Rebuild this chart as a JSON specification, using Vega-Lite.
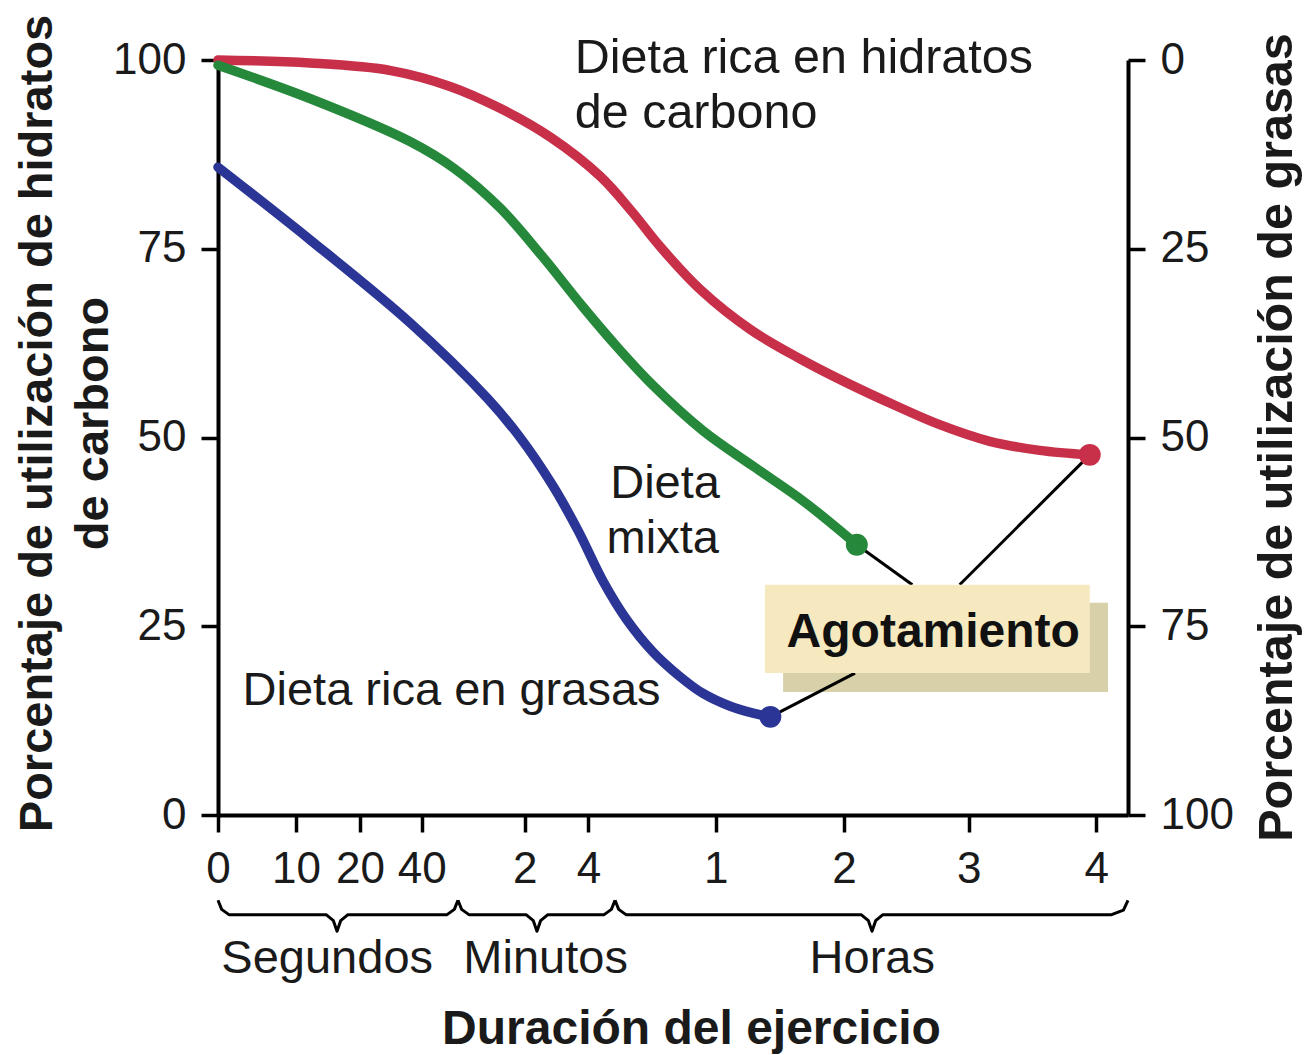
{
  "$schema": "https://vega.github.io/schema/vega-lite/v6.json",
  "width": 910,
  "height": 755,
  "autosize": {"type": "none"},
  "padding": {"left": 218, "top": 60, "right": 179, "bottom": 240},
  "background": "white",
  "config": {
    "view": {"stroke": null},
    "font": "Liberation Sans",
    "axis": {
      "domainColor": "black", "domainWidth": 4, "tickColor": "black", "tickWidth": 3.5, "tickSize": 17,
      "labelFontSize": 44, "labelColor": "#1a1a1a", "labelFont": "Liberation Sans",
      "titleFont": "Liberation Sans", "titleFontSize": 48, "titleFontWeight": "bold", "titleColor": "#1a1a1a",
      "grid": false, "labelFlush": false, "labelOverlap": false, "labelBound": false, "labelPadding": 15
    }
  },
  "datasets": {
    "curves": [
      {"dieta": "Dieta rica en hidratos de carbono", "x": 0, "carb": 100},
      {"dieta": "Dieta rica en hidratos de carbono", "x": 1.01, "carb": 99.6},
      {"dieta": "Dieta rica en hidratos de carbono", "x": 1.9, "carb": 98.6},
      {"dieta": "Dieta rica en hidratos de carbono", "x": 2.55, "carb": 96.5},
      {"dieta": "Dieta rica en hidratos de carbono", "x": 3.1, "carb": 93.6},
      {"dieta": "Dieta rica en hidratos de carbono", "x": 3.65, "carb": 89.8},
      {"dieta": "Dieta rica en hidratos de carbono", "x": 4.2, "carb": 84.6},
      {"dieta": "Dieta rica en hidratos de carbono", "x": 4.55, "carb": 79.9},
      {"dieta": "Dieta rica en hidratos de carbono", "x": 4.85, "carb": 75.4},
      {"dieta": "Dieta rica en hidratos de carbono", "x": 5.3, "carb": 69.6},
      {"dieta": "Dieta rica en hidratos de carbono", "x": 5.85, "carb": 64.3},
      {"dieta": "Dieta rica en hidratos de carbono", "x": 6.4, "carb": 60.4},
      {"dieta": "Dieta rica en hidratos de carbono", "x": 6.9, "carb": 57.3},
      {"dieta": "Dieta rica en hidratos de carbono", "x": 7.45, "carb": 54.2},
      {"dieta": "Dieta rica en hidratos de carbono", "x": 7.93, "carb": 51.7},
      {"dieta": "Dieta rica en hidratos de carbono", "x": 8.48, "carb": 49.5},
      {"dieta": "Dieta rica en hidratos de carbono", "x": 9.03, "carb": 48.3},
      {"dieta": "Dieta rica en hidratos de carbono", "x": 9.58, "carb": 47.7},
      {"dieta": "Dieta mixta", "x": 0, "carb": 99.3},
      {"dieta": "Dieta mixta", "x": 1.01, "carb": 94.9},
      {"dieta": "Dieta mixta", "x": 2.11, "carb": 89.2},
      {"dieta": "Dieta mixta", "x": 2.6, "carb": 85.6},
      {"dieta": "Dieta mixta", "x": 3.1, "carb": 80.4},
      {"dieta": "Dieta mixta", "x": 3.57, "carb": 73.9},
      {"dieta": "Dieta mixta", "x": 4.01, "carb": 67.3},
      {"dieta": "Dieta mixta", "x": 4.4, "carb": 61.8},
      {"dieta": "Dieta mixta", "x": 4.78, "carb": 56.9},
      {"dieta": "Dieta mixta", "x": 5.33, "carb": 50.9},
      {"dieta": "Dieta mixta", "x": 5.88, "carb": 46.2},
      {"dieta": "Dieta mixta", "x": 6.43, "carb": 41.6},
      {"dieta": "Dieta mixta", "x": 7.02, "carb": 35.8},
      {"dieta": "Dieta rica en grasas", "x": 0, "carb": 85.8},
      {"dieta": "Dieta rica en grasas", "x": 1.01, "carb": 76.2},
      {"dieta": "Dieta rica en grasas", "x": 2.11, "carb": 65.2},
      {"dieta": "Dieta rica en grasas", "x": 2.96, "carb": 55.2},
      {"dieta": "Dieta rica en grasas", "x": 3.32, "carb": 50.0},
      {"dieta": "Dieta rica en grasas", "x": 3.68, "carb": 43.6},
      {"dieta": "Dieta rica en grasas", "x": 3.96, "carb": 37.6},
      {"dieta": "Dieta rica en grasas", "x": 4.23, "carb": 31.0},
      {"dieta": "Dieta rica en grasas", "x": 4.49, "carb": 25.9},
      {"dieta": "Dieta rica en grasas", "x": 4.78, "carb": 21.6},
      {"dieta": "Dieta rica en grasas", "x": 5.08, "carb": 18.3},
      {"dieta": "Dieta rica en grasas", "x": 5.33, "carb": 16.1},
      {"dieta": "Dieta rica en grasas", "x": 5.63, "carb": 14.4},
      {"dieta": "Dieta rica en grasas", "x": 5.88, "carb": 13.5},
      {"dieta": "Dieta rica en grasas", "x": 6.07, "carb": 13.0}
    ],
    "ends": [
      {"dieta": "Dieta rica en hidratos de carbono", "x": 9.58, "grasas": 52.3},
      {"dieta": "Dieta mixta", "x": 7.02, "grasas": 64.2},
      {"dieta": "Dieta rica en grasas", "x": 6.07, "grasas": 87.0}
    ],
    "connectors": [
      {"x": 7.02, "y": 35.8, "x2": 7.63, "y2": 30.5},
      {"x": 9.58, "y": 47.7, "x2": 8.15, "y2": 30.5},
      {"x": 6.07, "y": 13.0, "x2": 7.0, "y2": 18.8}
    ],
    "box": [{"x": 6.01, "x2": 9.58, "y": 30.5, "y2": 18.8}],
    "shadow": [{"x": 6.21, "x2": 9.78, "y": 28.1, "y2": 16.3}],
    "agot": [{"t": "Agotamiento", "x": 7.86, "y": 22.3}],
    "toplabel": [
      {"t": "Dieta rica en hidratos", "x": 3.92, "y": 98.3},
      {"t": "de carbono", "x": 3.92, "y": 91.0}
    ],
    "labels": [
      {"t": "Dieta", "x": 4.31, "y": 42.0},
      {"t": "mixta", "x": 4.27, "y": 34.7},
      {"t": "Dieta rica en grasas", "x": 0.27, "y": 14.6}
    ],
    "groups": [
      {"t": "Segundos", "x": 1.2, "y": -20.9},
      {"t": "Minutos", "x": 3.6, "y": -20.9},
      {"t": "Horas", "x": 7.19, "y": -20.9}
    ],
    "braces": [
      {"b": "s", "x": 0, "y": -11.3},
      {"b": "s", "x": 0.04, "y": -12.5},
      {"b": "s", "x": 0.12, "y": -13.2},
      {"b": "s", "x": 1.188, "y": -13.2},
      {"b": "s", "x": 1.268, "y": -14.0},
      {"b": "s", "x": 1.308, "y": -15.4},
      {"b": "s", "x": 1.348, "y": -14.0},
      {"b": "s", "x": 1.428, "y": -13.2},
      {"b": "s", "x": 2.517, "y": -13.2},
      {"b": "s", "x": 2.597, "y": -12.5},
      {"b": "s", "x": 2.637, "y": -11.3},
      {"b": "m", "x": 2.637, "y": -11.3},
      {"b": "m", "x": 2.677, "y": -12.5},
      {"b": "m", "x": 2.757, "y": -13.2},
      {"b": "m", "x": 3.385, "y": -13.2},
      {"b": "m", "x": 3.465, "y": -14.0},
      {"b": "m", "x": 3.505, "y": -15.4},
      {"b": "m", "x": 3.545, "y": -14.0},
      {"b": "m", "x": 3.625, "y": -13.2},
      {"b": "m", "x": 4.243, "y": -13.2},
      {"b": "m", "x": 4.323, "y": -12.5},
      {"b": "m", "x": 4.363, "y": -11.3},
      {"b": "h", "x": 4.363, "y": -11.3},
      {"b": "h", "x": 4.403, "y": -12.5},
      {"b": "h", "x": 4.483, "y": -13.2},
      {"b": "h", "x": 7.067, "y": -13.2},
      {"b": "h", "x": 7.147, "y": -14.0},
      {"b": "h", "x": 7.187, "y": -15.4},
      {"b": "h", "x": 7.227, "y": -14.0},
      {"b": "h", "x": 7.307, "y": -13.2},
      {"b": "h", "x": 9.82, "y": -13.2},
      {"b": "h", "x": 9.95, "y": -12.6},
      {"b": "h", "x": 10.0, "y": -11.3}
    ]
  },
  "layer": [
    {
      "layer": [
        {
          "data": {"name": "curves"},
          "mark": {"type": "line", "strokeWidth": 9.5, "interpolate": "catmull-rom", "strokeCap": "round"},
          "encoding": {
            "x": {
              "field": "x", "type": "quantitative",
              "scale": {"domain": [0, 10], "nice": false, "zero": false},
              "axis": {
                "values": [0, 0.857, 1.56, 2.24, 3.37, 4.07, 5.47, 6.88, 8.25, 9.65],
                "labelExpr": "datum.value < 0.5 ? '0' : datum.value < 1.2 ? '10' : datum.value < 1.9 ? '20' : datum.value < 3 ? '40' : datum.value < 3.7 ? '2' : datum.value < 5 ? '4' : datum.value < 6 ? '1' : datum.value < 7.5 ? '2' : datum.value < 9 ? '3' : '4'",
                "domainWidth": 4, "tickWidth": 3.5,
                "title": "Duración del ejercicio",
                "titleX": 473, "titleY": 228, "titleAlign": "center", "titleBaseline": "alphabetic"
              }
            },
            "y": {
              "field": "carb", "type": "quantitative",
              "scale": {"domain": [0, 100], "nice": false},
              "axis": {
                "values": [0, 25, 50, 75, 100],
                "domainWidth": 4, "tickWidth": 3.5,
                "title": ["Porcentaje de utilización de hidratos", "de carbono"],
                "titleFontSize": 47,
                "titleAngle": 270, "titleX": -204, "titleY": 363, "titleAlign": "center",
                "titleBaseline": "top", "titleLineHeight": 56
              }
            },
            "color": {
              "field": "dieta", "type": "nominal",
              "scale": {"domain": ["Dieta rica en hidratos de carbono", "Dieta mixta", "Dieta rica en grasas"], "range": ["#c8304a", "#25883a", "#2b3596"]},
              "legend": null
            }
          }
        },
        {
          "data": {"name": "shadow"},
          "mark": {"type": "rect", "color": "#d8d0a8"},
          "encoding": {
            "x": {"field": "x", "type": "quantitative"}, "x2": {"field": "x2"},
            "y": {"field": "y", "type": "quantitative"}, "y2": {"field": "y2"}
          }
        },
        {
          "data": {"name": "connectors"},
          "mark": {"type": "rule", "color": "black", "strokeWidth": 3},
          "encoding": {
            "x": {"field": "x", "type": "quantitative"}, "x2": {"field": "x2"},
            "y": {"field": "y", "type": "quantitative"}, "y2": {"field": "y2"}
          }
        },
        {
          "data": {"name": "box"},
          "mark": {"type": "rect", "color": "#f6e9c0"},
          "encoding": {
            "x": {"field": "x", "type": "quantitative"}, "x2": {"field": "x2"},
            "y": {"field": "y", "type": "quantitative"}, "y2": {"field": "y2"}
          }
        },
        {
          "data": {"name": "agot"},
          "mark": {"type": "text", "fontSize": 48, "fontWeight": "bold", "align": "center", "baseline": "alphabetic", "color": "#111111"},
          "encoding": {
            "x": {"field": "x", "type": "quantitative"},
            "y": {"field": "y", "type": "quantitative"},
            "text": {"field": "t"}
          }
        },
        {
          "data": {"name": "toplabel"},
          "mark": {"type": "text", "fontSize": 48.5, "align": "left", "baseline": "alphabetic", "color": "#1a1a1a"},
          "encoding": {
            "x": {"field": "x", "type": "quantitative"},
            "y": {"field": "y", "type": "quantitative"},
            "text": {"field": "t"}
          }
        },
        {
          "data": {"name": "labels"},
          "mark": {"type": "text", "fontSize": 47, "align": "left", "baseline": "alphabetic", "color": "#1a1a1a"},
          "encoding": {
            "x": {"field": "x", "type": "quantitative"},
            "y": {"field": "y", "type": "quantitative"},
            "text": {"field": "t"}
          }
        },
        {
          "data": {"name": "braces"},
          "mark": {"type": "line", "color": "black", "strokeWidth": 3, "strokeJoin": "round"},
          "encoding": {
            "x": {"field": "x", "type": "quantitative"},
            "y": {"field": "y", "type": "quantitative"},
            "detail": {"field": "b"}
          }
        },
        {
          "data": {"name": "groups"},
          "mark": {"type": "text", "fontSize": 47, "align": "center", "baseline": "alphabetic", "color": "#1a1a1a"},
          "encoding": {
            "x": {"field": "x", "type": "quantitative"},
            "y": {"field": "y", "type": "quantitative"},
            "text": {"field": "t"}
          }
        }
      ]
    },
    {
      "data": {"name": "ends"},
      "mark": {"type": "point", "filled": true, "shape": "circle", "size": 480, "opacity": 1},
      "encoding": {
        "x": {"field": "x", "type": "quantitative"},
        "y": {
          "field": "grasas", "type": "quantitative",
          "scale": {"domain": [0, 100], "reverse": true, "nice": false},
          "axis": {
            "orient": "right",
            "values": [0, 25, 50, 75, 100],
            "domainWidth": 4, "tickWidth": 3.5,
            "title": "Porcentaje de utilización de grasas",
            "titleFontSize": 48.5,
            "titleAngle": 270, "titleX": 148, "titleY": 377, "titleAlign": "center", "titleBaseline": "middle"
          }
        },
        "color": {"field": "dieta", "type": "nominal", "legend": null}
      }
    }
  ],
  "resolve": {"scale": {"y": "independent"}}
}
